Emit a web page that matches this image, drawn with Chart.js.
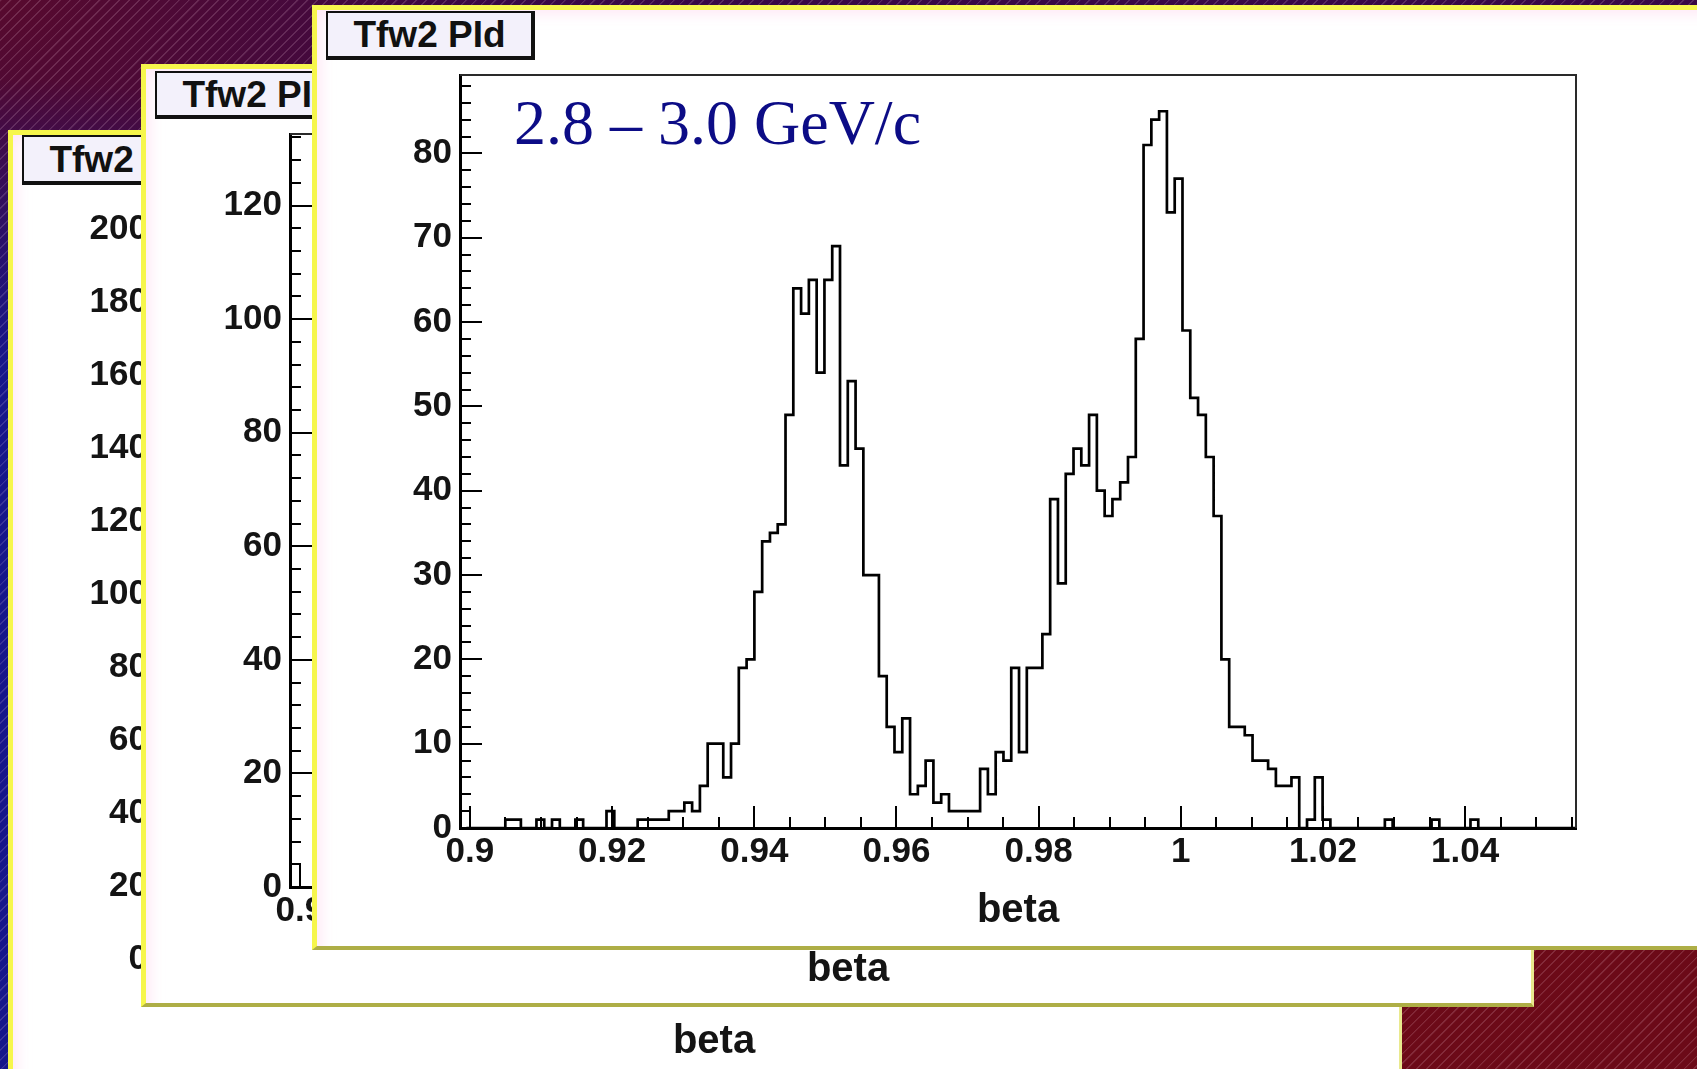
<!DOCTYPE html>
<html>
<head>
<meta charset="utf-8">
<title>Tfw2 PId – beta</title>
<script src="https://cdn.jsdelivr.net/npm/chart.js@4.4.1/dist/chart.umd.min.js"></script>
<style>
  html, body { margin: 0; padding: 0; }
  body {
    width: 1697px; height: 1069px; overflow: hidden; position: relative;
    background:
      repeating-linear-gradient(135deg, rgba(255,215,235,0.16) 0px, rgba(255,215,235,0.16) 1px, rgba(255,215,235,0) 1.6px, rgba(255,215,235,0) 7px),
      radial-gradient(circle 1100px at 0px 1069px, #16168a 0%, #16168a 64%, rgba(22,22,138,0) 90%),
      radial-gradient(ellipse 900px 700px at 1697px 1069px, #6c0a18 0%, #6c0a18 40%, rgba(108,10,24,0) 100%),
      radial-gradient(ellipse 520px 360px at 0px 0px, #580a2e 0%, rgba(88,10,46,0) 100%),
      #380846;
  }
  .panel {
    position: absolute; box-sizing: border-box; background: #fff;
    border-left: 5px solid #f6f64c; border-top: 5px solid #f6f64c;
    border-right: 3px solid #e9e98e; border-bottom: 4px solid #aeae46;
    box-shadow: inset 10px 10px 14px -6px rgba(255,214,238,0.55);
  }
  #panelBack  { left: 8px;   top: 130px; width: 1394px; height: 960px; }
  #panelMid   { left: 141px; top: 64px;  width: 1393px; height: 943px; }
  #panelFront { left: 312px; top: 5px;   width: 1400px; height: 945px; }
  canvas { position: absolute; }
  #chartBack  { left: 8px;   top: 136px; }
  #chartMid   { left: 142px; top: 64px; }
  #chartFront { left: 312px; top: 5px; }
  .pave {
    position: absolute; box-sizing: border-box; width: 209px;
    background: #f3f1fb; border: 2px solid #111; border-right-width: 4px; border-bottom-width: 4px;
    display: flex; align-items: center; justify-content: center;
    font: bold 37px "Liberation Sans", Arial, sans-serif; color: #111; line-height: 1;
    white-space: nowrap; overflow: hidden;
  }
  #paveBack  { left: 22px;  top: 135px; height: 50px; }
  #paveMid   { left: 155px; top: 71px;  height: 48px; }
  #paveFront { left: 326px; top: 11px;  height: 49px; }
  #momentum {
    position: absolute; left: 514px; top: 86px; line-height: 64px;
    font: 64px "Liberation Serif", "Times New Roman", serif; color: #0c0c86; white-space: nowrap;
  }
</style>
</head>
<body>
<div class="panel" id="panelBack"></div>
<canvas id="chartBack" width="1385" height="945"></canvas>
<div class="pave" id="paveBack"></div>

<div class="panel" id="panelMid"></div>
<canvas id="chartMid" width="1385" height="945"></canvas>
<div class="pave" id="paveMid"></div>

<div class="panel" id="panelFront"></div>
<canvas id="chartFront" width="1385" height="945"></canvas>
<div class="pave" id="paveFront"></div>
<div id="momentum"></div>

<script>
// ---- histogram content (front pad) ----
const panelTitle = 'Tfw2 PId';
const momentumLabel = '2.8 – 3.0 GeV/c';
const axisTitle = 'beta';

const betaLow = 0.8995;        // lower edge of the first bin
const betaBinWidth = 0.001095; // bin width in beta
const counts = [
  0, 0, 0, 0, 0, 1, 1, 0, 0, 1,
  0, 1, 0, 0, 1, 0, 0, 0, 2, 0,
  0, 0, 1, 1, 1, 1, 2, 2, 3, 2,
  5, 10, 10, 6, 10, 19, 20, 28, 34, 35,
  36, 49, 64, 61, 65, 54, 65, 69, 43, 53,
  45, 30, 30, 18, 12, 9, 13, 4, 5, 8,
  3, 4, 2, 2, 2, 2, 7, 4, 9, 8,
  19, 9, 19, 19, 23, 39, 29, 42, 45, 43,
  49, 40, 37, 39, 41, 44, 58, 81, 84, 85,
  73, 77, 59, 51, 49, 44, 37, 20, 12, 12,
  11, 8, 8, 7, 5, 5, 6, 0, 1, 6,
  1, 0, 0, 0, 0, 0, 0, 0, 1, 0,
  0, 0, 0, 0, 1, 0, 0, 0, 0, 1,
  0, 0, 0, 0, 0, 0, 0, 0, 0, 0,
  0, 0, 0
];

// axis ranges and labels
const betaMin = 0.8986;
const betaMax = 1.0556;
const xTickValues = [0.9, 0.92, 0.94, 0.96, 0.98, 1.0, 1.02, 1.04];
const xTickLabels = ['0.9', '0.92', '0.94', '0.96', '0.98', '1', '1.02', '1.04'];
const yTicksFront = [0, 10, 20, 30, 40, 50, 60, 70, 80];
const yTicksMid   = [0, 20, 40, 60, 80, 100, 120];
const yTicksBack  = [0, 20, 40, 60, 80, 100, 120, 140, 160, 180, 200];
const yMaxFront = 89.3;
const yMaxMid   = 132.6;
const yMaxBack  = 206.3;

document.getElementById('paveBack').textContent = panelTitle;
document.getElementById('paveMid').textContent = panelTitle;
document.getElementById('paveFront').textContent = panelTitle;
document.getElementById('momentum').textContent = momentumLabel;

// outline points: left edge of every bin, plus the right edge of the last one
const histPoints = counts.map((c, k) => ({ x: betaLow + k * betaBinWidth, y: c }));
histPoints.push({ x: betaLow + counts.length * betaBinWidth, y: counts[counts.length - 1] });

const FONT = '"Liberation Sans", Arial, sans-serif';

// frame box (top/right) and inward-pointing axis ticks, ROOT style
const rootFramePlugin = {
  id: 'rootFrame',
  afterDatasetsDraw(chart, args, opts) {
    const { ctx, chartArea: a, scales: { x, y } } = chart;
    ctx.save();
    ctx.strokeStyle = '#2a2a2a';
    ctx.lineWidth = 2;
    ctx.beginPath();
    ctx.moveTo(a.left, a.top);
    ctx.lineTo(a.right, a.top);
    ctx.lineTo(a.right, a.bottom);
    ctx.stroke();

    ctx.strokeStyle = '#000';
    ctx.lineWidth = 2;
    ctx.beginPath();
    for (let i = 0; ; i++) {
      const v = opts.xStart + i * opts.xMinorStep;
      if (v > x.max) break;
      const px = Math.round(x.getPixelForValue(v));
      if (px <= a.left + 2) continue;
      const len = (i % opts.xPerMajor === 0) ? opts.majorLen : opts.minorLen;
      ctx.moveTo(px, a.bottom);
      ctx.lineTo(px, a.bottom - len);
    }
    for (let i = 1; ; i++) {
      const v = i * opts.yMinorStep;
      if (v > y.max) break;
      const py = Math.round(y.getPixelForValue(v));
      const len = (i % opts.yPerMajor === 0) ? opts.majorLen : opts.minorLen;
      ctx.moveTo(a.left, py);
      ctx.lineTo(a.left + len, py);
    }
    ctx.stroke();
    ctx.restore();
  }
};

function buildPad(canvasId, yMax, yTicks, yMinorStep, datasets) {
  return new Chart(document.getElementById(canvasId), {
    type: 'line',
    data: { datasets },
    plugins: [rootFramePlugin],
    options: {
      responsive: false,
      animation: false,
      devicePixelRatio: 1,
      layout: { padding: { left: 0, top: 70, right: 121, bottom: 0 } },
      plugins: {
        legend: { display: false },
        tooltip: { enabled: false },
        rootFrame: { xStart: 0.9, xMinorStep: 0.005, xPerMajor: 4, yMinorStep, yPerMajor: 5, majorLen: 22, minorLen: 11 }
      },
      scales: {
        x: {
          type: 'linear', min: betaMin, max: betaMax,
          afterBuildTicks: s => { s.ticks = xTickValues.map(v => ({ value: v })); },
          afterFit: s => { s.height = 122; },
          grid: { display: true, drawOnChartArea: false, drawTicks: false },
          border: { display: true, color: '#000', width: 3 },
          ticks: {
            autoSkip: false, maxRotation: 0, minRotation: 0, padding: 3, color: '#141414',
            font: { family: FONT, size: 35, weight: 'bold' },
            callback: (v, i) => xTickLabels[i]
          },
          title: {
            display: true, text: axisTitle, color: '#141414',
            font: { family: FONT, size: 40, weight: 'bold' },
            padding: { top: 0, bottom: 15 }
          }
        },
        y: {
          type: 'linear', min: 0, max: yMax,
          afterBuildTicks: s => { s.ticks = yTicks.map(v => ({ value: v })); },
          afterFit: s => { s.width = 148; },
          grid: { display: true, drawOnChartArea: false, drawTicks: false },
          border: { display: true, color: '#000', width: 3 },
          ticks: {
            autoSkip: false, padding: 8, color: '#141414',
            font: { family: FONT, size: 35, weight: 'bold' }
          }
        }
      }
    }
  });
}

buildPad('chartBack', yMaxBack, yTicksBack, 4, []);
buildPad('chartMid', yMaxMid, yTicksMid, 4, []);
buildPad('chartFront', yMaxFront, yTicksFront, 2, [{
  data: histPoints,
  stepped: 'before',
  borderColor: '#000',
  borderWidth: 2.7,
  pointRadius: 0,
  fill: false,
  tension: 0
}]);
</script>
</body>
</html>
